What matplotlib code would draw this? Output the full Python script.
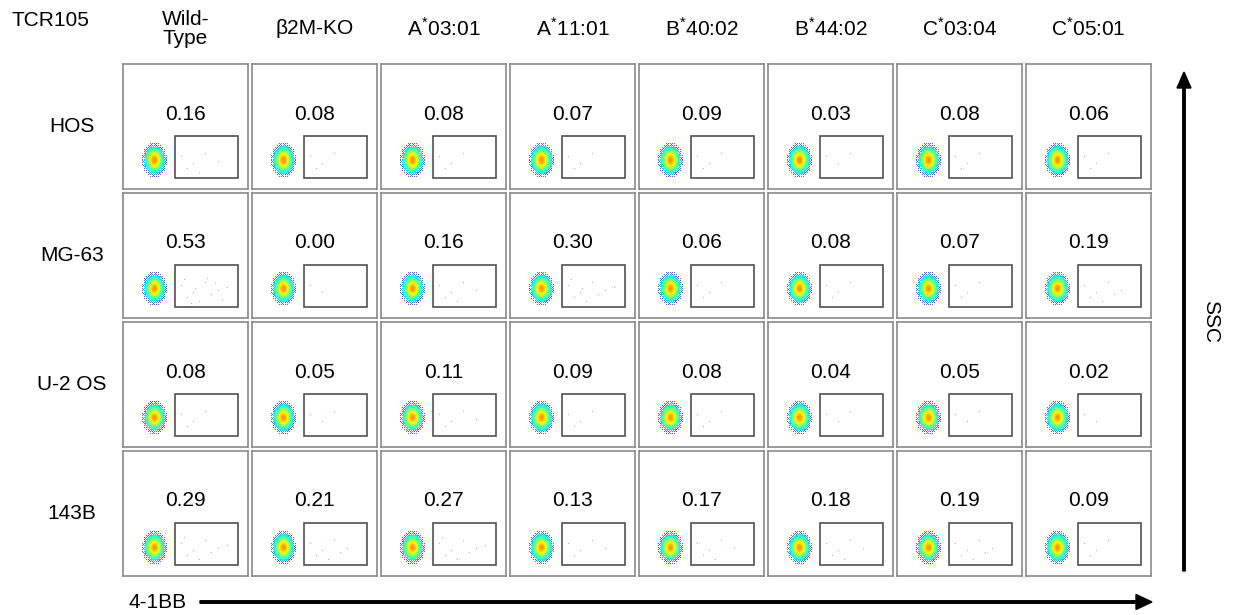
import numpy as np
import matplotlib
matplotlib.use('Agg')
import matplotlib.pyplot as plt
from matplotlib.patches import Rectangle, FancyArrow

plt.rcParams['font.family'] = ['Liberation Sans', 'DejaVu Sans']
plt.rcParams['mathtext.fontset'] = 'custom'
plt.rcParams['mathtext.rm'] = 'Liberation Sans'

# % of 4-1BB+ cells in the gate, rows = target cell lines, cols = HLA variants
cell_lines = ['HOS', 'MG-63', 'U-2 OS', '143B']
variants = ['Wild-\nType', 'β2M-KO', 'A$^{*}$03:01', 'A$^{*}$11:01',
            'B$^{*}$40:02', 'B$^{*}$44:02', 'C$^{*}$03:04', 'C$^{*}$05:01']
hos = [0.16, 0.08, 0.08, 0.07, 0.09, 0.03, 0.08, 0.06]
mg63 = [0.53, 0.00, 0.16, 0.30, 0.06, 0.08, 0.07, 0.19]
u2os = [0.08, 0.05, 0.11, 0.09, 0.08, 0.04, 0.05, 0.02]
b143 = [0.29, 0.21, 0.27, 0.13, 0.17, 0.18, 0.19, 0.09]
pct = [hos, mg63, u2os, b143]

# a few sparse positive events (x, y inside the panel frame)
ev_x = [58, 70, 82, 64, 95, 76, 88, 104, 61, 72, 99, 84, 68, 92]
ev_y = [92, 99, 89, 104, 97, 108, 101, 94, 86, 95, 106, 85, 110, 90]

W, H = 1238, 615
fig = plt.figure(figsize=(W / 100, H / 100), dpi=100)

x0, y0, pitch, size = 123, 64, 129, 125

# 4x4 ordered-dither thresholds for the cloud edge
bayer = np.array([[0, 8, 2, 10], [12, 4, 14, 6],
                  [3, 11, 1, 9], [15, 7, 13, 5]]) / 16.0


def cloud(ax, cx, cy, sx=5.0, sy=6.6):
    gx, gy = np.meshgrid(np.arange(-15, 16), np.arange(-20, 21))
    d = np.exp(-0.5 * ((gx / sx) ** 2 + (gy / sy) ** 2))
    v = np.clip(0.15 + 0.6 * d ** 0.6, 0, 1)
    rgba = plt.cm.jet(v)
    thr = bayer[gy % 4, gx % 4]
    show = (d > 0.22) | ((d > 0.03) & (thr < d / 0.22))
    rgba[..., 3] = np.where(show, 1.0, 0.0)
    # faint edge events are lighter blue
    edge = show & (d < 0.1)
    rgba[edge, :3] = np.array([0.35, 0.35, 1.0])
    ax.imshow(rgba, extent=(cx - 15.5, cx + 15.5, cy + 20.5, cy - 20.5),
              interpolation='nearest', zorder=2)


for r, line in enumerate(cell_lines):
    for c in range(len(variants)):
        left = x0 + c * pitch
        top = y0 + r * pitch
        ax = fig.add_axes([left / W, 1 - (top + size) / H, size / W, size / H])
        ax.set_xlim(0, size)
        ax.set_ylim(size, 0)
        ax.set_xticks([])
        ax.set_yticks([])
        for s in ax.spines.values():
            s.set_color('#8a8a8a')
            s.set_linewidth(1.2)
        cloud(ax, 31, 96)
        val = pct[r][c]
        n = min(len(ev_x), int(round(val * 25)) + 2)
        ax.scatter(ev_x[:n], ev_y[:n], s=1.0, color='#b4acff', lw=0, zorder=3)
        ax.add_patch(Rectangle((52, 72), 63, 42, fill=False,
                               edgecolor='#505050', lw=1.2, zorder=4))
        ax.text(62.5, 50, f'{val:.2f}', ha='center', va='center', fontsize=15)

# labels and arrows in pixel coordinates
ov = fig.add_axes([0, 0, 1, 1])
ov.set_xlim(0, W)
ov.set_ylim(H, 0)
ov.set_axis_off()
ov.patch.set_visible(False)

ov.text(50, 21, 'TCR105', ha='center', va='center', fontsize=15)
for c, name in enumerate(variants):
    ov.text(x0 + c * pitch + size / 2, 29, name, ha='center', va='center',
            fontsize=15, linespacing=1.05)
for r, line in enumerate(cell_lines):
    ov.text(72, y0 + r * pitch + size / 2, line, ha='center', va='center',
            fontsize=15)

ov.add_patch(FancyArrow(1184, 571, 0, -499, width=2.5, head_width=14,
                        head_length=16, length_includes_head=True,
                        color='black'))
ov.text(1211, 321, 'SSC', ha='center', va='center', rotation=-90, fontsize=15)

ov.add_patch(FancyArrow(200, 602, 952, 0, width=2.5, head_width=15,
                        head_length=16, length_includes_head=True,
                        color='black'))
ov.text(158, 602, '4-1BB', ha='center', va='center', fontsize=15)

fig.savefig('out.png', dpi=100)
